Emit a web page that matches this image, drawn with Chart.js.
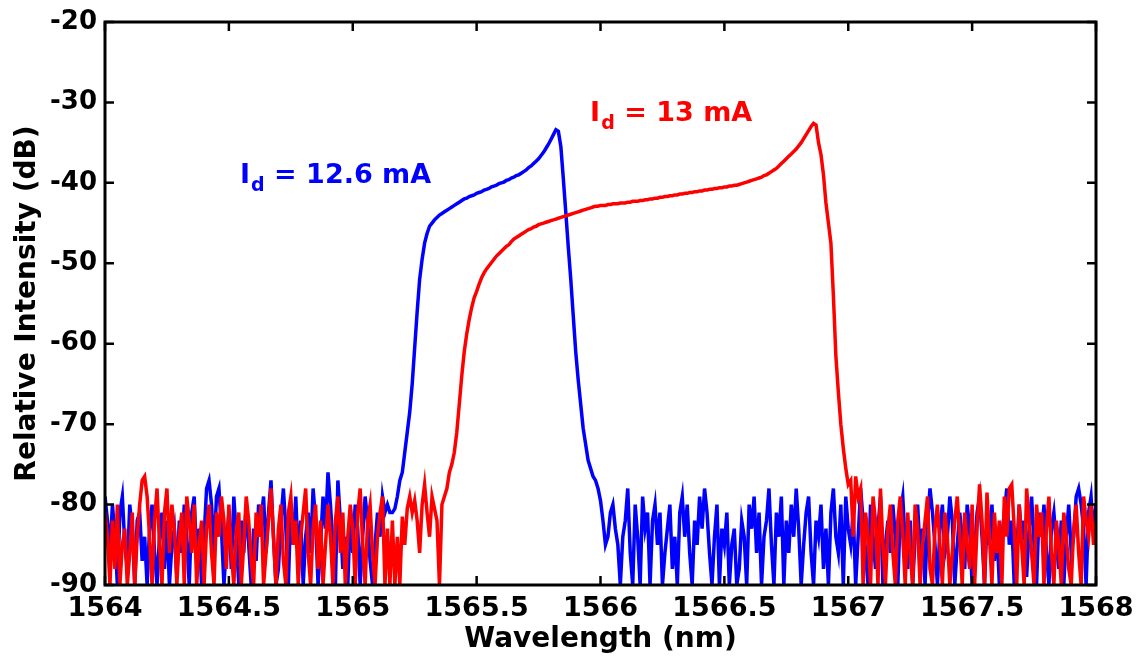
<!DOCTYPE html>
<html lang="en">
<head>
  <meta charset="UTF-8">
  <title>Relative Intensity vs. Wavelength</title>
  <script src="https://cdn.jsdelivr.net/npm/chart.js"></script>
  <style>
    html, body { margin: 0; padding: 0; background: #fff; }
    #wrap { width: 1138px; height: 661px; }
  </style>
</head>
<body>
  <div id="wrap"><canvas id="spectrumChart"></canvas></div>

  <script>
    // sample grid: 1564 nm to 1568 nm, one value every 0.01 nm
    const wlStart = 1564;
    const wlStep = 0.01;

    // Id = 12.6 mA (blue), dB
    const blueDb = [
      -79, -82, -86, -80, -84, -90, -81, -79, -85, -88,
      -80, -83, -90, -82, -81, -87, -84, -90, -83, -80,
      -86, -90, -84, -81, -88, -82, -90, -85, -83, -89,
      -82, -86, -80, -84, -90, -81, -79, -87, -83, -90,
      -84, -78, -77, -80, -86, -79, -78, -83, -90, -85,
      -81, -88, -79, -84, -90, -82, -86, -80, -85, -90,
      -83, -87, -80, -82, -79, -86, -81, -77, -84, -90,
      -88, -82, -78, -83, -90, -80, -85, -79, -87, -82,
      -90, -84, -81, -86, -78, -82, -90, -85, -79, -83,
      -76, -80, -85, -90, -77, -82, -88, -84, -90, -81,
      -86, -80, -83, -90, -84, -79, -82, -87, -90, -85,
      -81, -84, -79, -81, -80, -81, -81, -80.5, -79, -77,
      -76, -73.5, -71, -68.5, -65, -60.5, -56, -52, -49.5, -47.5,
      -46.3, -45.4, -45.0, -44.6, -44.3, -44.0, -43.8, -43.6, -43.4, -43.2,
      -43.0, -42.8, -42.6, -42.4, -42.2, -42.0, -41.9, -41.7, -41.6, -41.5,
      -41.3, -41.2, -41.1, -40.9, -40.8, -40.7, -40.5, -40.4, -40.3, -40.1,
      -40.0, -39.9, -39.7, -39.6, -39.4, -39.3, -39.1, -39.0, -38.8, -38.6,
      -38.4, -38.1, -37.9, -37.6, -37.3, -37.0, -36.6, -36.2, -35.7, -35.2,
      -34.6, -34.0, -33.4, -33.6, -35.5, -39.5, -43.7, -48, -52, -56.5,
      -61, -64.5, -67.5, -70.5, -72.5, -74.5, -75.5, -76.5, -77, -78,
      -79.5, -82, -85, -84, -81, -80, -83, -85, -90, -84,
      -82, -78, -86, -90, -80, -84, -90, -79, -83, -81,
      -90, -82, -80, -85, -81, -90, -86, -83, -80, -88,
      -84, -90, -81, -79, -84, -80, -86, -90, -82, -85,
      -79, -83, -78, -81, -86, -90, -84, -80, -90, -83,
      -85, -81, -90, -85, -83, -90, -88, -82, -84, -90,
      -80, -83, -79, -86, -81, -90, -84, -82, -78, -85,
      -90, -81, -84, -79, -90, -82, -86, -80, -84, -78,
      -83, -90, -85, -81, -79, -86, -90, -82, -84, -80,
      -88, -83, -90, -81, -78, -84, -86, -80, -90, -79,
      -83, -85, -81, -90, -84, -78, -82, -86, -90, -80,
      -84, -88, -83, -79, -90, -85, -82, -86, -80, -84,
      -90, -81, -79, -85, -88, -82, -90, -84, -80, -86,
      -83, -90, -82, -78, -81, -85, -90, -83, -80, -86,
      -84, -79, -82, -90, -85, -81, -84, -88, -80, -83,
      -90, -86, -81, -79, -84, -90, -82, -85, -80, -87,
      -83, -90, -84, -81, -78, -85, -82, -90, -86, -80,
      -84, -82, -89, -83, -79, -85, -90, -81, -84, -80,
      -86, -90, -83, -81, -85, -88, -82, -90, -84, -80,
      -86, -84, -79, -78, -80, -83, -90, -81, -79, -84,
      -80
    ];

    // Id = 13 mA (red), dB
    const redDb = [
      -81, -84, -90, -82, -88, -80, -90, -85, -83, -90,
      -86, -81, -90, -84, -80, -77, -76.5, -79, -84, -90,
      -82, -78, -85, -90, -81, -78, -86, -80, -83, -90,
      -84, -81, -90, -79, -82, -86, -80, -90, -85, -82,
      -90, -83, -80, -86, -90, -81, -84, -79, -82, -88,
      -80, -86, -90, -83, -81, -90, -85, -79, -82, -87,
      -90, -81, -84, -80, -90, -86, -82, -78, -84, -90,
      -83, -80, -87, -90, -81, -79, -85, -82, -90, -84,
      -81, -78, -86, -90, -83, -80, -88, -82, -90, -85,
      -80, -84, -90, -82, -79, -86, -81, -90, -84, -80,
      -83, -90, -81, -78, -85, -90, -82, -80, -86, -90,
      -84, -81, -79, -90, -83, -90, -82, -90, -84, -90,
      -81.5, -85, -80.5, -79, -81, -79.5, -82, -86, -80, -77.5,
      -81, -84, -79, -80.5, -82, -90, -80, -79, -78, -76,
      -75, -73.5, -71, -67.5, -64, -61, -58.8, -57, -55.5, -54.3,
      -53.5, -52.6, -51.8, -51.2, -50.7, -50.3, -49.9, -49.5, -49.1, -48.8,
      -48.5, -48.2, -47.9, -47.7, -47.3, -47.0, -46.8, -46.6, -46.4, -46.2,
      -46.0, -45.8, -45.7, -45.5, -45.4, -45.2, -45.1, -45.0, -44.9, -44.8,
      -44.7, -44.6, -44.5, -44.4, -44.3, -44.2, -44.1, -44.0, -43.9, -43.8,
      -43.7, -43.6, -43.5, -43.4, -43.3, -43.2, -43.1, -43.0, -42.9, -42.9,
      -42.8, -42.8, -42.8, -42.7, -42.7, -42.6, -42.6, -42.6, -42.5, -42.5,
      -42.5, -42.4, -42.4, -42.3, -42.3, -42.3, -42.2, -42.2, -42.1, -42.1,
      -42.0, -42.0, -41.9, -41.9, -41.8, -41.8, -41.7, -41.7, -41.6, -41.6,
      -41.5, -41.5, -41.4, -41.4, -41.3, -41.3, -41.2, -41.2, -41.1, -41.1,
      -41.0, -41.0, -40.9, -40.9, -40.8, -40.8, -40.7, -40.7, -40.6, -40.6,
      -40.5, -40.5, -40.4, -40.4, -40.3, -40.3, -40.2, -40.1, -40.0, -39.9,
      -39.8, -39.7, -39.6, -39.5, -39.4, -39.3, -39.1, -39.0, -38.8, -38.6,
      -38.4, -38.2, -37.9, -37.6, -37.3, -37.0, -36.7, -36.4, -36.1, -35.8,
      -35.4, -35.0, -34.5, -34.0, -33.5, -33.0, -32.6, -32.8, -35, -36.5,
      -39, -42.5, -45, -47.5, -54, -61.5, -66, -70, -73, -75.5,
      -77.5, -77, -84, -76.5, -79, -78, -90, -81, -84, -90,
      -79, -82, -90, -78, -85, -90, -83, -80, -86, -90,
      -82, -79, -84, -90, -81, -86, -90, -80, -83, -90,
      -85, -82, -79, -88, -90, -83, -80, -85, -90, -81,
      -84, -90, -86, -82, -79, -84, -90, -81, -85, -88,
      -80, -90, -83, -77.5, -82, -90, -78.5, -84, -90, -81,
      -86, -82, -90, -79, -84, -78, -77.5, -83, -90, -80,
      -85, -90, -78, -82, -86, -90, -80, -84, -81, -90,
      -83, -79, -86, -90, -82, -85, -90, -81, -84, -88,
      -90, -83, -80, -86, -90, -79, -82, -84, -80, -85,
      -82
    ];

    const xTickValues = [1564, 1564.5, 1565, 1565.5, 1566, 1566.5, 1567, 1567.5, 1568];
    const xTickLabels = ['1564', '1564.5', '1565', '1565.5', '1566', '1566.5', '1567', '1567.5', '1568'];
    const yTickValues = [-90, -80, -70, -60, -50, -40, -30, -20];
    const yTickLabels = ['-90', '-80', '-70', '-60', '-50', '-40', '-30', '-20'];

    // curve labels: "I" + subscript "d" + rest, anchored in data coordinates
    const labelSub = ['d', 'd'];
    const labelRest = [' = 12.6 mA', ' = 13 mA'];
    const labelWl = [1564.545, 1565.958];
    const labelDb = [-40.0, -32.3];
    const labelColors = ['#0000ff', '#ff0000'];

    const toPoints = vals => vals.map((v, i) => ({ x: wlStart + i * wlStep, y: v }));

    const frameAndLabels = {
      id: 'frameAndLabels',
      afterDatasetsDraw(chart) {
        const { ctx, chartArea: a, scales: { x, y } } = chart;
        ctx.save();
        ctx.strokeStyle = '#000';
        ctx.lineWidth = 3;
        ctx.strokeRect(a.left, a.top, a.right - a.left, a.bottom - a.top);

        // inward ticks on all four sides
        ctx.lineWidth = 2.5;
        ctx.beginPath();
        xTickValues.forEach(v => {
          const px = x.getPixelForValue(v);
          ctx.moveTo(px, a.bottom); ctx.lineTo(px, a.bottom - 9);
          ctx.moveTo(px, a.top); ctx.lineTo(px, a.top + 9);
        });
        yTickValues.forEach(v => {
          const py = y.getPixelForValue(v);
          ctx.moveTo(a.left, py); ctx.lineTo(a.left + 9, py);
          ctx.moveTo(a.right, py); ctx.lineTo(a.right - 9, py);
        });
        ctx.stroke();

        ctx.textBaseline = 'alphabetic';
        ctx.textAlign = 'left';
        labelRest.forEach((rest, i) => {
          let px = x.getPixelForValue(labelWl[i]);
          const py = y.getPixelForValue(labelDb[i]);
          ctx.fillStyle = labelColors[i];
          ctx.font = 'bold 27px "DejaVu Sans"';
          ctx.fillText('I', px, py);
          px += ctx.measureText('I').width + 1;
          ctx.font = 'bold 19px "DejaVu Sans"';
          ctx.fillText(labelSub[i], px, py + 8);
          px += ctx.measureText(labelSub[i]).width;
          ctx.font = 'bold 27px "DejaVu Sans"';
          ctx.fillText(rest, px, py);
        });
        ctx.restore();
      }
    };

    new Chart(document.getElementById('spectrumChart').getContext('2d'), {
      type: 'line',
      data: {
        datasets: [
          { label: 'Id = 13 mA', data: toPoints(redDb), borderColor: '#ff0000', borderWidth: 3.5, pointRadius: 0, tension: 0, order: 0 },
          { label: 'Id = 12.6 mA', data: toPoints(blueDb), borderColor: '#0000ff', borderWidth: 3.5, pointRadius: 0, tension: 0, order: 1 }
        ]
      },
      options: {
        responsive: true,
        maintainAspectRatio: false,
        animation: false,
        layout: { padding: { top: 22, right: 42, left: 0, bottom: 0 } },
        scales: {
          x: {
            type: 'linear',
            min: 1564, max: 1568,
            afterFit: s => { s.height = 76; s.paddingLeft = 0; s.paddingRight = 0; },
            afterBuildTicks: s => { s.ticks = xTickValues.map(v => ({ value: v })); },
            grid: { display: false, drawTicks: false },
            border: { display: false },
            ticks: {
              color: '#000', padding: 8, maxRotation: 0, autoSkip: false,
              font: { family: 'DejaVu Sans', weight: 'bold', size: 27 },
              callback: (v, i) => xTickLabels[i]
            },
            title: {
              display: true, text: 'Wavelength (nm)', color: '#000',
              font: { family: 'DejaVu Sans', weight: 'bold', size: 28 },
              padding: { top: 0, bottom: 4 }
            }
          },
          y: {
            min: -90, max: -20,
            afterFit: s => { s.width = 105; s.paddingTop = 0; s.paddingBottom = 0; },
            afterBuildTicks: s => { s.ticks = yTickValues.map(v => ({ value: v })); },
            grid: { display: false, drawTicks: false },
            border: { display: false },
            ticks: {
              color: '#000', padding: 8,
              font: { family: 'DejaVu Sans', weight: 'bold', size: 26 },
              callback: (v, i) => yTickLabels[i]
            },
            title: {
              display: true, text: 'Relative Intensity (dB)', color: '#000',
              font: { family: 'DejaVu Sans', weight: 'bold', size: 28 },
              padding: { top: 11, bottom: 0 }
            }
          }
        },
        plugins: {
          legend: { display: false },
          tooltip: { enabled: false }
        }
      },
      plugins: [frameAndLabels]
    });
  </script>
</body>
</html>
